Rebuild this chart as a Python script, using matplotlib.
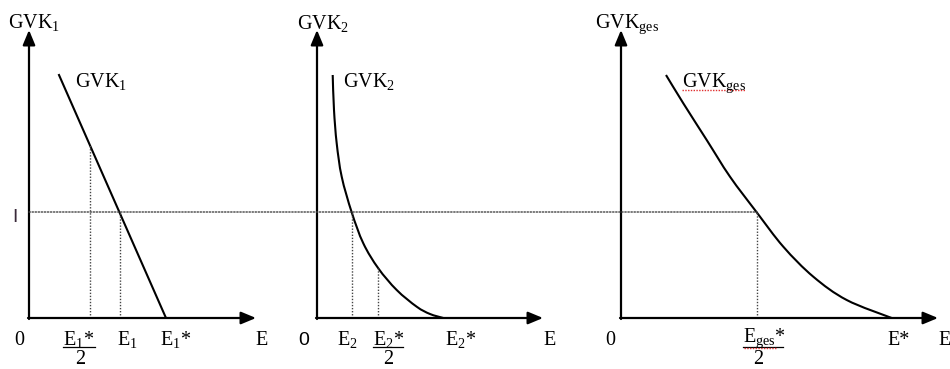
import numpy as np
import matplotlib
matplotlib.use("Agg")
import matplotlib.pyplot as plt
from matplotlib.patches import ConnectionPatch, PathPatch
from matplotlib.path import Path

plt.rcParams['font.family'] = ['Liberation Serif', 'DejaVu Serif']
plt.rcParams['mathtext.fontset'] = 'custom'
plt.rcParams['mathtext.rm'] = 'Liberation Serif'
plt.rcParams['mathtext.it'] = 'Liberation Serif:italic'

# values (one unit ~ one pixel of the reference)
invest = 106                      # level I

gvk1_x = [30, 137]
gvk1_y = [243, 0]
e1, e1_half, e1_star = 91, 61, 137

gvk2_x = [15.7, 17, 19.7, 24.7, 34.7, 46.3, 61.3, 79.7, 99.7, 113, 126.3]
gvk2_y = [243, 208, 174.7, 141.3, 105.7, 74.7, 49.7, 28, 11.3, 4, 0]
e2, e2_half, e2_star = 35, 61, 126

gvk_ges_x = [45, 62.3, 85.7, 109, 135.7, 162.3, 192.3, 225.7, 270.7]
gvk_ges_y = [243, 214.7, 178, 141.3, 105.7, 71.3, 41.3, 18, 0]
e_ges_half, e_star = 136, 271

W, H = 950, 369
fig = plt.figure(figsize=(W / 100, H / 100), dpi=100)
fig.patch.set_facecolor('white')

FS = 14.5
dot_style = dict(color='#444444', lw=1.0, linestyle=(0, (1, 1.2)))


def make_panel(ox, oy, w, h):
    ax = fig.add_axes([ox / W, (H - oy) / H, w / W, h / H])
    ax.set_xlim(0, w)
    ax.set_ylim(0, h)
    ax.axis('off')
    arrow = dict(arrowstyle='-|>,head_length=0.6,head_width=0.25', color='black',
                 lw=1.6, mutation_scale=15, shrinkA=0, shrinkB=0)
    ax.annotate('', xy=(w, 0), xytext=(-1, 0), arrowprops=arrow, annotation_clip=False)
    ax.annotate('', xy=(0, h), xytext=(0, -1), arrowprops=arrow, annotation_clip=False)
    return ax


def curve(ax, xs, ys):
    # smooth bezier path through the read points
    pts = np.column_stack([xs, ys]).astype(float)
    verts = [pts[0]]
    codes = [Path.MOVETO]
    n = len(pts)
    for i in range(n - 1):
        p0 = pts[i - 1] if i > 0 else pts[i]
        p1, p2 = pts[i], pts[i + 1]
        p3 = pts[i + 2] if i + 2 < n else pts[i + 1]
        verts += [p1 + (p2 - p0) / 6, p2 - (p3 - p1) / 6, p2]
        codes += [Path.CURVE4] * 3
    ax.add_patch(PathPatch(Path(verts, codes), fill=False, edgecolor='black', lw=1.5))


def frac_label(ax, x_left, x_under, x_two, top, red=None, base=-27):
    ax.text(x_left, base, top, fontsize=FS, ha='left', va='baseline', clip_on=False)
    ax.plot([x_left, x_left + x_under], [-29, -29], color='black', lw=0.9, clip_on=False)
    ax.text(x_two, -46, '2', fontsize=FS, ha='center', va='baseline', clip_on=False)
    if red is not None:
        ax.plot(red, [-30, -30], color='#e03030', lw=1.0, linestyle=(0, (1, 1)), clip_on=False)


# panel 1
ax1 = make_panel(29, 318, 227, 288)
ax1.plot(gvk1_x, gvk1_y, color='black', lw=1.5)
ax1.plot([e1, e1], [0, invest], **dot_style)
ax1.plot([e1_half, e1_half], [0, np.interp(e1_half, gvk1_x, gvk1_y)], **dot_style)
ax1.text(-21, 290, r'$\mathrm{GVK}_{1}$', fontsize=FS, ha='left', va='baseline')
ax1.text(46, 231, r'$\mathrm{GVK}_{1}$', fontsize=FS, ha='left', va='baseline')
ax1.text(-10, -27, '0', fontsize=FS, ha='center', va='baseline', clip_on=False)
frac_label(ax1, 34, 32, 51, r'$\mathrm{E}_{1}$*')
ax1.text(e1 - 3, -27, r'$\mathrm{E}_{1}$', fontsize=FS, ha='left', va='baseline')
ax1.text(e1_star - 6, -27, r'$\mathrm{E}_{1}$*', fontsize=FS, ha='left', va='baseline')
ax1.text(226, -27, 'E', fontsize=FS, ha='left', va='baseline', clip_on=False)
ax1.text(-14, invest - 5, 'I', fontsize=14, family='Liberation Sans', color='#3a2a3a',
         ha='center', va='center', clip_on=False)

# panel 2
ax2 = make_panel(317, 318, 226, 288)
curve(ax2, gvk2_x, gvk2_y)
ax2.plot([e2, e2], [0, invest], **dot_style)
ax2.plot([e2_half, e2_half], [0, np.interp(e2_half, gvk2_x, gvk2_y)], **dot_style)
ax2.text(-20, 289, r'$\mathrm{GVK}_{2}$', fontsize=FS, ha='left', va='baseline')
ax2.text(26, 231, r'$\mathrm{GVK}_{2}$', fontsize=FS, ha='left', va='baseline')
ax2.text(-13, -27, '0', fontsize=14, family='Liberation Sans', ha='center', va='baseline',
         clip_on=False)
ax2.text(e2 - 15, -27, r'$\mathrm{E}_{2}$', fontsize=FS, ha='left', va='baseline')
frac_label(ax2, 56, 30, 71, r'$\mathrm{E}_{2}$*')
ax2.text(e2_star + 2, -27, r'$\mathrm{E}_{2}$*', fontsize=FS, ha='left', va='baseline')
ax2.text(226, -27, 'E', fontsize=FS, ha='left', va='baseline', clip_on=False)

# panel 3
ax3 = make_panel(621, 318, 317, 288)
curve(ax3, gvk_ges_x, gvk_ges_y)
ax3.plot([e_ges_half, e_ges_half], [0, invest], **dot_style)
ax3.text(-26, 290, r'$\mathrm{GVK}_{\mathrm{ges}}$', fontsize=FS, ha='left', va='baseline')
ax3.text(61, 231, r'$\mathrm{GVK}_{\mathrm{ges}}$', fontsize=FS, ha='left', va='baseline')
ax3.plot([61, 124], [228, 228], color='#e03030', lw=1.0, linestyle=(0, (1, 1)))
ax3.text(-11, -27, '0', fontsize=FS, ha='center', va='baseline', clip_on=False)
frac_label(ax3, 122, 40, 137, r'$\mathrm{E}_{\mathrm{ges}}$*', red=[123, 156], base=-24)
ax3.text(e_star - 5, -27, 'E*', fontsize=FS, ha='left', va='baseline')
ax3.text(317, -27, 'E', fontsize=FS, ha='left', va='baseline', clip_on=False)

# dotted I line running across all three panels
con = ConnectionPatch(xyA=(0, invest), coordsA=ax1.transData,
                      xyB=(e_ges_half, invest), coordsB=ax3.transData, **dot_style)
fig.add_artist(con)

fig.savefig('out.png', dpi=100, facecolor='white')
